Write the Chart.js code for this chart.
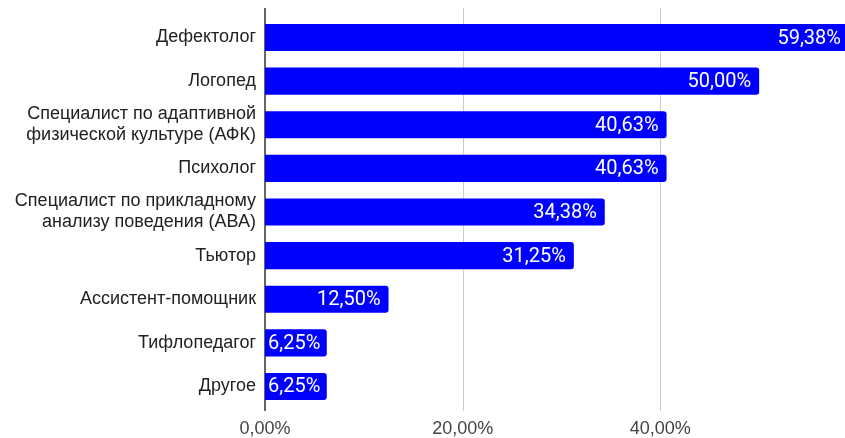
<!DOCTYPE html>
<html><head><meta charset="utf-8">
<script src="https://cdn.jsdelivr.net/npm/chart.js@4"></script>
<style>
html,body{margin:0;padding:0;overflow:hidden;background:#fff;}
#wrap{position:absolute;left:0;top:0;width:861px;height:438px;}
</style></head>
<body><div id="wrap"><canvas id="c"></canvas></div>
<script>
const categories = [
  "Дефектолог",
  "Логопед",
  ["Специалист по адаптивной", "физической культуре (АФК)"],
  "Психолог",
  ["Специалист по прикладному", "анализу поведения (АВА)"],
  "Тьютор",
  "Ассистент-помощник",
  "Тифлопедагог",
  "Другое"
];
const values = [59.38, 50.00, 40.63, 40.63, 34.38, 31.25, 12.50, 6.25, 6.25];
const xTicks = [0, 20, 40];

const fmt = v => v.toFixed(2).replace('.', ',') + '%';

const gridLines = {
  id: 'gridLines',
  beforeDatasetsDraw(chart) {
    const ctx = chart.ctx;
    const xs = chart.scales.x;
    ctx.save();
    ctx.lineWidth = 1;
    ctx.strokeStyle = '#cccccc';
    xTicks.forEach(v => {
      if (v === 0) return;
      const x = Math.round(xs.getPixelForValue(v)) + 0.5;
      ctx.beginPath(); ctx.moveTo(x, 8); ctx.lineTo(x, 411); ctx.stroke();
    });
    ctx.strokeStyle = '#333333';
    ctx.lineWidth = 1.5;
    const x0 = xs.getPixelForValue(0);
    ctx.beginPath(); ctx.moveTo(x0, 8); ctx.lineTo(x0, 411); ctx.stroke();
    ctx.restore();
  }
};

const valueLabels = {
  id: 'valueLabels',
  afterDatasetsDraw(chart) {
    const ctx = chart.ctx;
    const meta = chart.getDatasetMeta(0);
    ctx.save();
    ctx.font = '20px Roboto';
    ctx.fillStyle = '#ffffff';
    ctx.textBaseline = 'middle';
    meta.data.forEach((bar, i) => {
      const txt = fmt(values[i]);
      const w = ctx.measureText(txt).width;
      let right = Math.min(bar.x - 8, 841);
      const minLeft = bar.base + 3;
      if (right - w < minLeft) right = minLeft + w;
      ctx.textAlign = 'right';
      ctx.fillText(txt, right, bar.y + 1);
    });
    ctx.restore();
  }
};

new Chart(document.getElementById('c'), {
  type: 'bar',
  data: {
    labels: categories,
    datasets: [{
      data: values,
      backgroundColor: '#0000ff',
      borderRadius: 3,
      borderSkipped: 'start',
      barPercentage: 0.62,
      categoryPercentage: 1.0
    }]
  },
  options: {
    indexAxis: 'y',
    responsive: true,
    maintainAspectRatio: false,
    animation: false,
    layout: { padding: { top: 15.7, right: 3, left: 0, bottom: 0 } },
    plugins: { legend: { display: false }, tooltip: { enabled: false } },
    scales: {
      x: {
        min: 0, max: 60,
        afterBuildTicks(axis) { axis.ticks = xTicks.concat([60]).map(v => ({ value: v })); },
        afterFit(axis) { axis.height = 29.7; axis.paddingLeft = 0; axis.paddingRight = 0; },
        ticks: {
          padding: 10,
          color: '#444',
          font: { family: 'Liberation Sans', size: 18 },
          callback: v => (v === 60 ? '' : fmt(v))
        },
        grid: { display: false, drawTicks: false },
        border: { display: false }
      },
      y: {
        afterFit(axis) { axis.width = 265; axis.paddingTop = 0; axis.paddingBottom = 0; },
        ticks: {
          autoSkip: false,
          padding: 9,
          color: '#222',
          font: { family: 'Liberation Sans', size: 18, lineHeight: 1.17 }
        },
        grid: { display: false, drawTicks: false },
        border: { display: false }
      }
    }
  },
  plugins: [gridLines, valueLabels]
});
</script>
</body></html>
